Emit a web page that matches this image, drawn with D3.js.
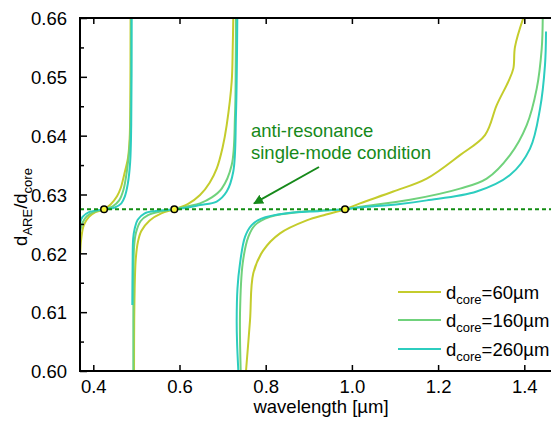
<!DOCTYPE html>
<html><head><meta charset="utf-8">
<script src="https://cdn.jsdelivr.net/npm/d3@7"></script>
<style>
body{margin:0;background:#fff;}
text{font-family:"Liberation Sans",Arial,sans-serif;}
</style></head>
<body><svg id="c" width="551" height="421"></svg>
<script>
// ---- data ----
const seriesNames = ["60µm", "160µm", "260µm"];
const seriesColors = ["#c4cc2c", "#70d27c", "#2ccdbf"];
const xTicks = [0.4, 0.6, 0.8, 1.0, 1.2, 1.4];
const yTicks = [0.60, 0.61, 0.62, 0.63, 0.64, 0.65, 0.66];
const condition = 0.6275;
const crossings = [0.425, 0.588, 0.984];

// d_core = 60 µm (three branches)
const d60_b1 = [[0.3695,0.6198],[0.372,0.6225],[0.378,0.6248],[0.39,0.6262],[0.405,0.627],[0.425,0.6275],[0.44,0.6283],[0.455,0.6297],[0.4636,0.6311],[0.472,0.6335],[0.4805,0.6362],[0.4844,0.6396],[0.4858,0.645],[0.4865,0.66]];
const d60_b2 = [[0.4945,0.60],[0.4955,0.612],[0.4985,0.619],[0.5037,0.622],[0.5114,0.6238],[0.5308,0.6256],[0.5578,0.6268],[0.588,0.6275],[0.62,0.6284],[0.6476,0.6299],[0.67,0.632],[0.6863,0.6344],[0.70,0.638],[0.7095,0.6418],[0.7211,0.6492],[0.7235,0.655],[0.7248,0.66]];
const d60_b3 = [[0.7543,0.60],[0.7636,0.6086],[0.7712,0.6166],[0.7944,0.6205],[0.8332,0.6234],[0.8951,0.6256],[0.94,0.6266],[0.984,0.6275],[1.0188,0.6285],[1.096,0.6305],[1.1735,0.6327],[1.2508,0.6367],[1.3088,0.6401],[1.336,0.6452],[1.3629,0.6492],[1.3745,0.6514],[1.3784,0.6551],[1.3977,0.66]];
// d_core = 160 µm
const d160_b1 = [[0.3695,0.6238],[0.375,0.6252],[0.385,0.6263],[0.40,0.627],[0.425,0.6275],[0.445,0.628],[0.46,0.629],[0.47,0.6308],[0.478,0.634],[0.4845,0.6385],[0.487,0.645],[0.4878,0.66]];
const d160_b2 = [[0.4928,0.60],[0.4932,0.615],[0.4945,0.621],[0.499,0.6235],[0.51,0.6255],[0.527,0.6265],[0.555,0.6271],[0.588,0.6275],[0.62,0.628],[0.6476,0.6285],[0.675,0.6295],[0.698,0.631],[0.7211,0.635],[0.7288,0.6435],[0.7305,0.652],[0.731,0.66]];
const d160_b3 = [[0.742,0.60],[0.7404,0.6098],[0.7466,0.6183],[0.7597,0.6228],[0.7752,0.6248],[0.81,0.6262],[0.8873,0.6271],[0.984,0.6275],[1.0188,0.6279],[1.1348,0.6291],[1.2508,0.631],[1.3127,0.6327],[1.3668,0.6367],[1.4056,0.6418],[1.4288,0.648],[1.4404,0.6548],[1.4428,0.66]];
// d_core = 260 µm
const d260_b1 = [[0.3695,0.6252],[0.375,0.6262],[0.39,0.627],[0.425,0.6275],[0.45,0.6278],[0.465,0.6285],[0.4728,0.6296],[0.48,0.6318],[0.4855,0.6355],[0.488,0.642],[0.489,0.66]];
const d260_b2 = [[0.4905,0.6112],[0.4912,0.618],[0.4925,0.6225],[0.496,0.6242],[0.503,0.6257],[0.5193,0.6268],[0.545,0.6272],[0.588,0.6275],[0.62,0.6278],[0.6476,0.6282],[0.6863,0.6288],[0.7095,0.6305],[0.7248,0.6339],[0.731,0.6435],[0.7341,0.66]];
const d260_b3 = [[0.7365,0.60],[0.7335,0.605],[0.7327,0.6086],[0.7345,0.614],[0.7404,0.6183],[0.752,0.6228],[0.7675,0.6248],[0.79,0.6259],[0.8487,0.6268],[0.926,0.6272],[0.984,0.6275],[1.0188,0.6278],[1.1116,0.6284],[1.1735,0.629],[1.2895,0.6305],[1.3668,0.6333],[1.4133,0.6378],[1.4365,0.6446],[1.448,0.652],[1.4504,0.6577]];

const seriesBranches = [[d60_b1,d60_b2,d60_b3],[d160_b1,d160_b2,d160_b3],[d260_b1,d260_b2,d260_b3]];

// ---- layout ----
const L = 80, R = 551, T = 18, B = 371;
const x = d3.scaleLinear().domain([0.4, 1.4]).range([93.3, 524.3]);
const y = d3.scaleLinear().domain([0.60, 0.66]).range([B, T]);
const svg = d3.select("#c");

svg.append("defs").append("clipPath").attr("id","clip")
  .append("rect").attr("x",L).attr("y",T).attr("width",R-L).attr("height",B-T);

const g = svg.append("g").attr("clip-path","url(#clip)");
const line = d3.line().x(d=>x(d[0])).y(d=>y(d[1])).curve(d3.curveCatmullRom.alpha(0.5));

seriesBranches.forEach((branches,i)=>{
  branches.forEach(br=>{
    g.append("path").attr("d",line(br)).attr("fill","none")
      .attr("stroke",seriesColors[i]).attr("stroke-width",2);
  });
});

// dashed condition line
g.append("line").attr("x1",L).attr("x2",R).attr("y1",y(condition)).attr("y2",y(condition))
  .attr("stroke","#118c11").attr("stroke-width",2).attr("stroke-dasharray","4,3");

// markers
svg.selectAll("circle.m").data(crossings).enter().append("circle")
  .attr("cx",d=>x(d)).attr("cy",y(condition)).attr("r",3.3)
  .attr("fill","#f6f23a").attr("stroke","#000").attr("stroke-width",1.5);

// axes
const fs = 18.5;
const yAxis = d3.axisLeft(y).tickValues(yTicks).tickFormat(d3.format(".2f")).tickSizeInner(-7).tickSizeOuter(0).tickPadding(13);
const ya = svg.append("g").attr("transform",`translate(${L},0)`).call(yAxis);
const xAxis = d3.axisBottom(x).tickValues(xTicks).tickFormat(d3.format(".1f")).tickSizeInner(-6).tickSizeOuter(0).tickPadding(9);
const xa = svg.append("g").attr("transform",`translate(0,${B})`).call(xAxis);
const xTop = d3.axisTop(x).tickValues(xTicks).tickFormat("").tickSizeInner(-6).tickSizeOuter(0);
const xt = svg.append("g").attr("transform",`translate(0,${T})`).call(xTop);
const minorY = d3.range(0.605, 0.66, 0.01);
const ym = svg.append("g").attr("transform",`translate(${L},0)`)
  .call(d3.axisLeft(y).tickValues(minorY).tickFormat("").tickSizeInner(-4).tickSizeOuter(0));
[ya,xa,xt,ym].forEach(a=>{
  a.select(".domain").remove();
  a.selectAll(".tick line").attr("stroke","#000").attr("stroke-width",1.5);
  a.selectAll("text").attr("font-size",fs).attr("fill","#000").attr("font-family","Liberation Sans, Arial, sans-serif");
});
ya.selectAll("text").attr("dy","0.36em");
// spines
svg.append("path").attr("d",`M${R+2},${T}H${L}V${B}H${R+2}`).attr("fill","none").attr("stroke","#000").attr("stroke-width",2);

// axis titles
svg.append("text").attr("x",321).attr("y",413).attr("text-anchor","middle").attr("font-size",fs).text("wavelength [µm]");
const yl = svg.append("text").attr("transform","translate(27,207) rotate(-90)").attr("text-anchor","middle").attr("font-size",fs);
yl.append("tspan").text("d");
yl.append("tspan").attr("font-size",13).attr("dy",5).text("ARE");
yl.append("tspan").attr("dy",-5).text("/d");
yl.append("tspan").attr("font-size",13).attr("dy",5).text("core");

// annotation
svg.append("text").attr("x",251).attr("y",137).attr("font-size",fs).attr("fill","#16891a").text("anti-resonance");
svg.append("text").attr("x",251).attr("y",159).attr("font-size",fs).attr("fill","#16891a").text("single-mode condition");
svg.append("defs").append("marker").attr("id","ah").attr("viewBox","0 0 10 10").attr("refX",9).attr("refY",5)
  .attr("markerWidth",5).attr("markerHeight",5).attr("orient","auto")
  .append("path").attr("d","M0,0L10,5L0,10z").attr("fill","#16891a");
svg.append("line").attr("x1",319).attr("y1",167).attr("x2",254).attr("y2",203.5)
  .attr("stroke","#16891a").attr("stroke-width",2).attr("marker-end","url(#ah)");

// legend
const legY = [292, 320, 349];
seriesNames.forEach((nm,i)=>{
  svg.append("line").attr("x1",398).attr("x2",441).attr("y1",legY[i]).attr("y2",legY[i])
    .attr("stroke",seriesColors[i]).attr("stroke-width",2);
  const t = svg.append("text").attr("x",446).attr("y",legY[i]+6.5).attr("font-size",fs);
  t.append("tspan").text("d");
  t.append("tspan").attr("font-size",13).attr("dy",5).text("core");
  t.append("tspan").attr("dy",-5).text("="+nm);
});
</script></body></html>
